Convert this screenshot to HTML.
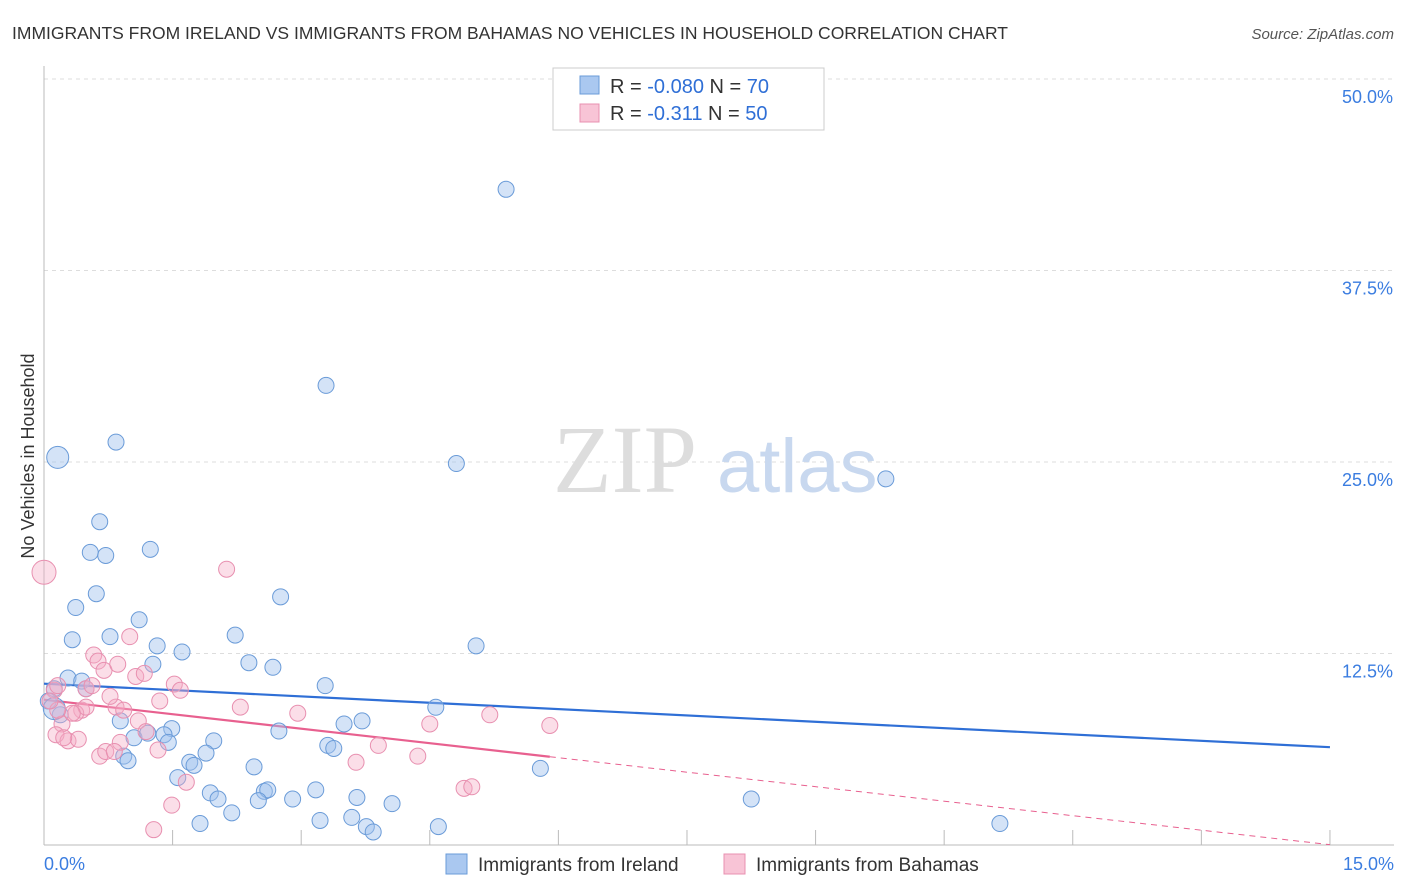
<!DOCTYPE html>
<html><head><meta charset="utf-8"><style>
body{margin:0;background:#fff;font-family:"Liberation Sans",sans-serif}
svg{display:block}
</style></head><body>
<svg id="chart" width="1406" height="892" viewBox="0 0 1406 892" xmlns="http://www.w3.org/2000/svg">
<text x="12" y="39" font-size="17.5" fill="#333">IMMIGRANTS FROM IRELAND VS IMMIGRANTS FROM BAHAMAS NO VEHICLES IN HOUSEHOLD CORRELATION CHART</text>
<text x="1394" y="39" font-size="15" fill="#555" font-style="italic" text-anchor="end">Source: ZipAtlas.com</text>
<text x="34" y="456" font-size="18" fill="#333" transform="rotate(-90 34 456)" text-anchor="middle">No Vehicles in Household</text>
<g id="grid"></g>
<g><text x="553" y="492" font-size="96" fill="#ddd" font-family="Liberation Serif,serif">ZIP</text><text x="717" y="492" font-size="76" fill="#c8d8ef">atlas</text></g>
<g id="lines"></g>
<g id="pts"></g>
<g>
<rect x="553" y="68" width="271" height="62" fill="#fff" stroke="#ccc"/>
<rect x="580" y="76" width="19" height="18" fill="#aac8f0" stroke="#6a9bd8"/>
<rect x="580" y="104" width="19" height="18" fill="#f8c4d6" stroke="#e890b0"/>
<text x="610" y="93" font-size="20" fill="#333">R = <tspan fill="#2f6fd6">-0.080</tspan>   N = <tspan fill="#2f6fd6">70</tspan></text>
<text x="610" y="120" font-size="20" fill="#333">R =   <tspan fill="#2f6fd6">-0.311</tspan>   N = <tspan fill="#2f6fd6">50</tspan></text>
</g>
<g>
<rect x="446" y="854" width="21" height="20" fill="#aac8f0" stroke="#6a9bd8"/>
<text x="478" y="871" font-size="19" fill="#333">Immigrants from Ireland</text>
<rect x="724" y="854" width="21" height="20" fill="#f8c4d6" stroke="#e890b0"/>
<text x="756" y="871" font-size="19" fill="#333">Immigrants from Bahamas</text>
</g>
</svg>
<script>
const yTicks=[12.5,25,37.5,50];
const xTickLabels=["0.0%","15.0%"];
const irelandX=[5.39,3.29,0.84,0.16,4.81,9.82,0.65,0.54,0.72,1.24,0.61,2.76,0.37,1.11,0.77,0.33,2.23,1.32,1.61,5.04,1.27,2.39,2.67,0.28,0.44,0.12,0.49,3.28,4.57,0.05,0.19,0.89,1.49,3.50,3.71,2.74,1.40,1.05,1.45,1.21,1.98,1.89,3.31,3.38,0.93,0.98,1.70,1.75,2.45,5.79,1.56,3.17,2.57,2.61,1.94,2.50,2.03,2.90,3.65,4.06,8.25,2.19,3.59,3.22,3.76,1.82,3.84,4.60,11.15,0.12];
const irelandY=[42.8,30.0,26.3,25.3,24.9,23.9,21.1,19.1,18.9,19.3,16.4,16.2,15.5,14.7,13.6,13.4,13.7,13.0,12.6,13.0,11.8,11.9,11.6,10.9,10.7,10.2,10.2,10.4,8.99,9.4,8.5,8.1,7.6,7.9,8.1,7.44,7.2,7.0,6.7,7.3,6.8,6.0,6.5,6.3,5.8,5.5,5.4,5.2,5.1,5.0,4.4,3.6,3.5,3.6,3.4,2.9,3.0,3.0,3.1,2.7,3.0,2.1,1.8,1.6,1.2,1.4,0.85,1.2,1.4,8.9];
const bahamasX=[0.0,2.13,0.12,0.16,1.00,0.58,0.63,0.70,0.86,1.07,1.17,1.52,1.59,0.49,0.56,1.35,2.29,2.96,0.84,0.93,0.44,0.37,5.20,5.90,4.50,1.10,1.19,0.21,0.14,0.28,0.40,0.23,0.89,0.65,0.72,0.82,1.33,3.90,4.36,3.64,1.66,4.90,4.99,1.49,1.28,0.49,0.33,0.16,0.07,0.77];
const bahamasY=[17.8,18.0,10.1,10.4,13.6,12.4,12.0,11.4,11.8,11.0,11.2,10.5,10.1,10.2,10.4,9.4,9.0,8.6,9.0,8.8,8.8,8.6,8.5,7.8,7.9,8.1,7.4,7.9,7.2,6.8,6.9,7.0,6.7,5.8,6.1,6.1,6.2,6.5,5.8,5.4,4.1,3.7,3.8,2.6,1.0,9.0,8.6,8.8,9.4,9.7];
const X=v=>44+v*85.73, Y=v=>845-v*15.32;
const ns="http://www.w3.org/2000/svg";
function mk(t,a,p){const e=document.createElementNS(ns,t);for(const k in a)e.setAttribute(k,a[k]);p.appendChild(e);return e;}
const g=document.getElementById('grid');
yTicks.forEach(t=>{
const l=mk('line',{x1:44,x2:1394,y1:Y(t),y2:Y(t),stroke:'#ddd','stroke-dasharray':'4,4'},g);


const tx=mk('text',{x:1393,y:Y(t)+24,'font-size':18,fill:'#3b7de0','text-anchor':'end'},g);
tx.textContent=t.toFixed(1)+'%';


});
const ax=mk('line',{x1:44,x2:1394,y1:845,y2:845,stroke:'#bbb'},g);


const ay=mk('line',{x1:44,x2:44,y1:66,y2:845,stroke:'#bbb'},g);


for(let i=0;i<=10;i++){const tk=mk('line',{x1:X(i*1.5),x2:X(i*1.5),y1:830,y2:845,stroke:'#bbb'},g);

}
[[xTickLabels[0],44,'start'],[xTickLabels[1],1394,'end']].forEach(([s,x,a])=>{
const tx=mk('text',{x:x,y:870,'font-size':18,fill:'#3b7de0','text-anchor':a},g);tx.textContent=s;

});
function trend(xs,ys){const n=xs.length,mx=xs.reduce((a,b)=>a+b)/n,my=ys.reduce((a,b)=>a+b)/n;let sxy=0,sxx=0;for(let i=0;i<n;i++){sxy+=(xs[i]-mx)*(ys[i]-my);sxx+=(xs[i]-mx)**2;}const b=sxy/sxx;return [my-b*mx,b];}
const L=document.getElementById('lines');
let [a1,b1]=trend(irelandX,irelandY);
const bl=mk('line',{x1:X(0),y1:Y(a1),x2:X(15),y2:Y(a1+b1*15),stroke:'#2f6fd6','stroke-width':2.2},L);


let [a2,b2]=trend(bahamasX,bahamasY);
const xm=Math.max(...bahamasX);
const pl=mk('line',{x1:X(0),y1:Y(a2),x2:X(xm),y2:Y(a2+b2*xm),stroke:'#e8608f','stroke-width':2.2},L);


const pd=mk('line',{x1:X(xm),y1:Y(a2+b2*xm),x2:X(15),y2:Y(a2+b2*15),stroke:'#e8608f','stroke-width':1,'stroke-dasharray':'6,5'},L);


const P=document.getElementById('pts');
irelandX.forEach((x,i)=>{const c=mk('circle',{cx:X(x),cy:Y(irelandY[i]),r:(i==3||i==69)?11:8,fill:'rgba(160,192,238,0.45)',stroke:'#6a9bd8','stroke-width':1},P);

});
bahamasX.forEach((x,i)=>{const c=mk('circle',{cx:X(x),cy:Y(bahamasY[i]),r:i==0?12:8,fill:'rgba(246,172,198,0.4)',stroke:'#e890b0','stroke-width':1},P);

});
</script>
</body></html>
